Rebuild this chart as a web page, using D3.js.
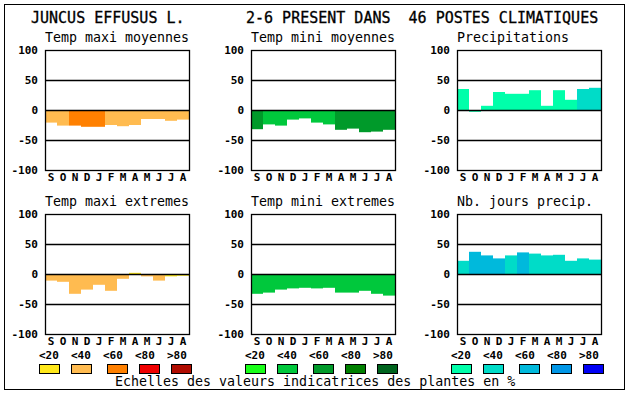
<!DOCTYPE html>
<html><head><meta charset="utf-8">
<script src="https://cdn.jsdelivr.net/npm/d3@7"></script>
<style>
html,body{margin:0;padding:0;background:#fff;}
svg{display:block;}
</style></head>
<body>
<svg id="chart" width="630" height="394"></svg>
<script>
// ---------- data ----------
const months = ["S","O","N","D","J","F","M","A","M","J","J","A"];
const yTicks = [100, 50, 0, -50, -100];
const legendLabels = ["<20","<40","<60","<80",">80"];

const orangeScale = ["#FFE81A","#FFBB50","#FF8000","#F00000","#B00C00"];
const greenScale  = ["#19FF19","#00C83C","#009A2A","#008000","#00641E"];
const blueScale   = ["#00FFAA","#00DCC8","#00B9DC","#0096E6","#0000F5"];

const tempMaxiMoy      = [-21,-26,-26,-28,-28,-25,-27,-25,-15,-15,-18,-16];
const tempMaxiMoyClass = [1,1,2,2,2,1,1,1,1,1,1,1];
const tempMiniMoy      = [-32,-24,-26,-16,-14,-21,-24,-33,-31,-37,-36,-33];
const tempMiniMoyClass = [2,1,1,1,1,1,1,2,2,2,2,2];
const precip           = [35,-3,7,30,27,27,33,7,33,17,35,37];
const precipClass      = [0,0,0,0,0,0,0,0,0,0,1,1];
const tempMaxiExt      = [-11,-13,-33,-26,-18,-28,-8,2,-4,-11,-4,-3];
const tempMaxiExtClass = [1,1,1,1,1,1,1,0,1,1,0,0];
const tempMiniExt      = [-33,-31,-26,-24,-23,-24,-23,-31,-31,-28,-33,-36];
const tempMiniExtClass = [1,1,1,1,1,1,1,1,1,1,1,1];
const nbJours          = [22,37,31,26,31,36,34,31,32,22,26,24];
const nbJoursClass     = [1,2,2,2,1,2,1,1,1,1,1,1];

const titleLeft  = "JUNCUS EFFUSUS L.";
const titleRight = "2-6 PRESENT DANS  46 POSTES CLIMATIQUES";
const caption    = "Echelles des valeurs indicatrices des plantes en %";

const panels = [
  {title:"Temp maxi moyennes", values:tempMaxiMoy, cls:tempMaxiMoyClass, pal:orangeScale, col:0, row:0},
  {title:"Temp mini moyennes", values:tempMiniMoy, cls:tempMiniMoyClass, pal:greenScale,  col:1, row:0},
  {title:"Precipitations",     values:precip,      cls:precipClass,      pal:blueScale,   col:2, row:0},
  {title:"Temp maxi extremes", values:tempMaxiExt, cls:tempMaxiExtClass, pal:orangeScale, col:0, row:1},
  {title:"Temp mini extremes", values:tempMiniExt, cls:tempMiniExtClass, pal:greenScale,  col:1, row:1},
  {title:"Nb. jours precip.",  values:nbJours,     cls:nbJoursClass,     pal:blueScale,   col:2, row:1}
];

// ---------- layout ----------
const svg = d3.select("#chart");
const MONO = "'DejaVu Sans Mono', monospace";
const colX = [45, 251, 457];
const rowY = [50, 214];
const PW = 144, PH = 120;

svg.append("rect").attr("x",4.5).attr("y",4.5).attr("width",620).attr("height",385)
  .attr("fill","none").attr("stroke","#000").attr("stroke-width",1);

svg.append("text").attr("x",31).attr("y",23).text(titleLeft)
  .attr("font-family",MONO).attr("font-size",15).attr("stroke","#000").attr("stroke-width",0.3);
svg.append("text").attr("x",246).attr("y",23).text(titleRight)
  .style("white-space","pre")
  .attr("font-family",MONO).attr("font-size",15).attr("stroke","#000").attr("stroke-width",0.3);

panels.forEach(p => {
  const x0 = colX[p.col], y0 = rowY[p.row];
  const g = svg.append("g");
  const x = d3.scaleBand().domain(d3.range(months.length)).range([x0, x0+PW]).padding(0);
  const y = d3.scaleLinear().domain([-100,100]).range([y0+PH, y0]);

  g.append("text").attr("x", x0).attr("y", y0-8).text(p.title)
    .attr("font-family",MONO).attr("font-size",13.3);

  g.selectAll("rect.bar").data(p.values).enter().append("rect")
    .attr("class","bar")
    .attr("x",(d,i)=>x(i)).attr("width",x.bandwidth())
    .attr("y",d=>y(Math.max(0,d))).attr("height",d=>Math.abs(y(d)-y(0)))
    .attr("fill",(d,i)=>p.pal[p.cls[i]]);

  g.selectAll("line.grid").data([50,0,-50]).enter().append("line")
    .attr("x1",x0).attr("x2",x0+PW)
    .attr("y1",d=>Math.round(y(d))+0.5).attr("y2",d=>Math.round(y(d))+0.5)
    .attr("stroke","#000").attr("stroke-width",1.3);

  g.append("rect").attr("x",x0+0.5).attr("y",y0+0.5).attr("width",PW).attr("height",PH)
    .attr("fill","none").attr("stroke","#000").attr("stroke-width",1.3);

  g.selectAll("text.tick").data(yTicks).enter().append("text")
    .attr("x",x0-7).attr("y",d=>y(d)+4).attr("text-anchor","end")
    .attr("font-family",MONO).attr("font-size",11).attr("font-weight","bold")
    .text(d=>d===0?"0":String(d));

  g.selectAll("text.month").data(months).enter().append("text")
    .attr("x",(d,i)=>x(i)+x.bandwidth()/2).attr("y",y0+PH+11).attr("text-anchor","middle")
    .attr("font-family",MONO).attr("font-size",11).attr("font-weight","bold")
    .text(d=>d);
});

// ---------- legend ----------
[orangeScale, greenScale, blueScale].forEach((pal, k) => {
  const lx = colX[k] - 6;
  legendLabels.forEach((lab, i) => {
    const tx = lx + 32*i;
    svg.append("text").attr("x",tx).attr("y",359).text(lab)
      .attr("font-family",MONO).attr("font-size",11).attr("font-weight","bold");
    svg.append("rect").attr("x",tx + (i>=2?4:0) + 0.5).attr("y",364.5)
      .attr("width",20).attr("height",9)
      .attr("fill",pal[i]).attr("stroke","#000").attr("stroke-width",1);
  });
});

svg.append("text").attr("x",115).attr("y",386).text(caption)
  .attr("font-family",MONO).attr("font-size",13.3);
</script>
</body></html>
